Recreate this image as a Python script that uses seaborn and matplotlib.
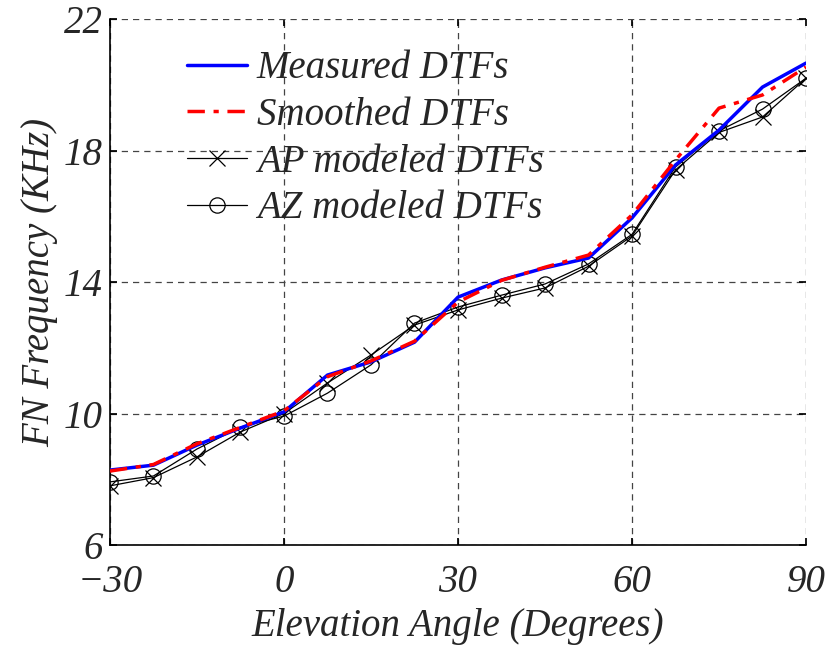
import matplotlib
matplotlib.use("Agg")
import matplotlib.pyplot as plt
import seaborn as sns

elevation = [-30, -22.5, -15, -7.5, 0, 7.5, 15, 22.5, 30, 37.5, 45, 52.5, 60, 67.5, 75, 82.5, 90]
measured = [8.28, 8.43, 9.04, 9.56, 10.05, 11.17, 11.57, 12.17, 13.54, 14.06, 14.43, 14.73, 15.95, 17.56, 18.62, 19.93, 20.66]
smoothed = [8.25, 8.45, 9.08, 9.58, 10.08, 11.12, 11.60, 12.20, 13.39, 14.05, 14.45, 14.82, 16.04, 17.71, 19.29, 19.69, 20.54]
ap_model = [7.80, 8.05, 8.68, 9.44, 10.00, 10.93, 11.78, 12.69, 13.15, 13.51, 13.82, 14.48, 15.40, 17.41, 18.55, 19.02, 20.20]
az_model = [7.92, 8.10, 8.92, 9.59, 9.92, 10.62, 11.48, 12.75, 13.24, 13.60, 13.94, 14.55, 15.45, 17.50, 18.60, 19.26, 20.20]

x_ticks = [-30, 0, 30, 60, 90]
y_ticks = [6, 10, 14, 18, 22]

sns.set_theme(style="white")
plt.rcParams['font.family'] = ['Liberation Serif', 'DejaVu Serif']

fig = plt.figure(figsize=(8.25, 6.45), dpi=100)
ax = fig.add_axes([0.1333, 0.155, 0.977 - 0.1333, 0.9705 - 0.155])

sns.lineplot(x=elevation, y=measured, ax=ax, color="#0000ff", lw=2.5, label="Measured DTFs", zorder=4)
sns.lineplot(x=elevation, y=smoothed, ax=ax, color="#ff0000", lw=2.5, label="Smoothed DTFs", zorder=5)
ax.lines[-1].set_dashes([5, 2.5, 1.5, 2.5])
sns.lineplot(x=elevation, y=ap_model, ax=ax, color="black", lw=0.9, marker="x", markersize=12,
             markeredgewidth=0.9, markeredgecolor="black", label="AP modeled DTFs", zorder=3)
sns.lineplot(x=elevation, y=az_model, ax=ax, color="black", lw=0.9, marker="o", markersize=11,
             markerfacecolor="none", markeredgecolor="black", markeredgewidth=0.9,
             label="AZ modeled DTFs", zorder=3)

fs = 28
ax.set_xlim(-30, 90)
ax.set_ylim(6, 22)
ax.set_xticks(x_ticks)
ax.set_yticks(y_ticks)
ax.set_xticklabels([str(t).replace("-", "\u2212") for t in x_ticks], fontsize=fs, fontstyle="italic")
ax.set_yticklabels([str(t) for t in y_ticks], fontsize=fs, fontstyle="italic")
ax.set_xlabel("Elevation Angle (Degrees)", fontsize=fs, fontstyle="italic", labelpad=5)
ax.set_ylabel("FN Frequency (KHz)", fontsize=fs, fontstyle="italic", labelpad=4)

ax.grid(True, color="#444444", linestyle=(0, (5, 4)), linewidth=0.9)
for s in ["top", "right"]:
    ax.spines[s].set_visible(False)
for s in ["left", "bottom"]:
    ax.spines[s].set_color("black")
    ax.spines[s].set_linewidth(1.2)
ax.tick_params(direction="in", length=5, top=True, right=True, bottom=True, left=True,
               color="black", pad=5)
ax.tick_params(axis="x", pad=14)

leg = ax.legend(loc="upper left", bbox_to_anchor=(0.077, 0.985), frameon=False,
                prop={"family": "Liberation Serif", "style": "italic", "size": fs},
                handlelength=1.55, handletextpad=0.25, labelspacing=0.25, borderaxespad=0.2)

fig.savefig("out.png", dpi=100)
